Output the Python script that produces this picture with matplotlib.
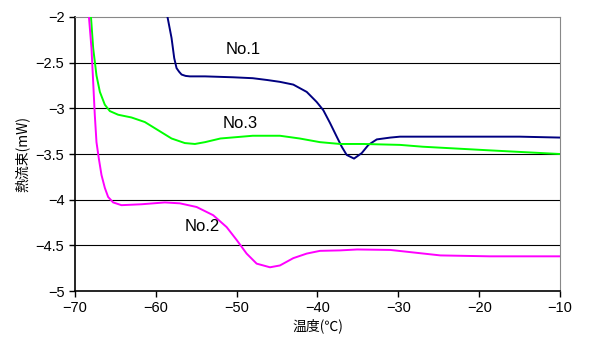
"""DSC heat-flow curves for samples No.1-No.3."""

import matplotlib

matplotlib.use("Agg")
import matplotlib.pyplot as plt

plt.rcParams["font.family"] = ["Noto Sans CJK JP", "DejaVu Sans"]

# No.1 (navy)
no1_x = [-58.6, -58.54, -58.04, -57.71, -57.42, -57.1, -56.8, -56.3, -55.77, -53.9,
         -50.4, -48.0, -46.2, -44.64, -42.99, -41.33, -40.1, -39.28, -38.45, -37.62,
         -37.0, -36.39, -35.48, -34.53, -33.7, -32.67, -31.0, -29.8, -25.0, -20.0,
         -15.0, -10.0]
no1_y = [-1.95, -2.0, -2.23, -2.45, -2.56, -2.60, -2.63, -2.645, -2.65, -2.65,
         -2.66, -2.67, -2.69, -2.71, -2.74, -2.82, -2.93, -3.02, -3.16, -3.31,
         -3.42, -3.51, -3.55, -3.49, -3.40, -3.34, -3.32, -3.31, -3.31, -3.31,
         -3.31, -3.32]

# No.2 (magenta)
no2_x = [-68.3, -68.27, -67.94, -67.73, -67.53, -67.32, -67.03, -66.7, -66.29, -65.88,
         -65.26, -64.23, -61.75, -58.87, -57.0, -54.94, -52.89, -51.23, -50.0, -48.76,
         -47.52, -45.87, -44.64, -42.99, -41.33, -39.69, -37.2, -35.1, -31.0, -24.8,
         -18.7, -10.0]
no2_y = [-1.95, -1.98, -2.34, -2.71, -3.07, -3.37, -3.55, -3.73, -3.87, -3.97,
         -4.03, -4.06, -4.05, -4.03, -4.04, -4.08, -4.17, -4.30, -4.44, -4.59,
         -4.70, -4.74, -4.72, -4.64, -4.59, -4.56, -4.555, -4.545, -4.55, -4.61,
         -4.62, -4.62]

# No.3 (green)
no3_x = [-68.05, -68.0, -67.73, -67.32, -66.9, -66.29, -65.67, -64.64, -62.99, -61.34,
         -59.69, -58.04, -56.4, -55.15, -53.9, -52.0, -48.0, -45.5, -44.64, -42.2,
         -39.7, -37.2, -34.33, -29.8, -27.0, -18.7, -10.0]
no3_y = [-1.95, -2.0, -2.34, -2.64, -2.82, -2.96, -3.03, -3.07, -3.10, -3.15,
         -3.24, -3.33, -3.38, -3.39, -3.37, -3.33, -3.30, -3.30, -3.30, -3.33,
         -3.37, -3.39, -3.39, -3.40, -3.42, -3.46, -3.50]

x_ticks = [-70, -60, -50, -40, -30, -20, -10]
x_tick_labels = ["−70", "−60", "−50", "−40", "−30", "−20", "−10"]
y_ticks = [-5, -4.5, -4, -3.5, -3, -2.5, -2]
y_tick_labels = ["−5", "−4.5", "−4", "−3.5", "−3", "−2.5", "−2"]

latin = "Liberation Sans"

fig = plt.figure(figsize=(5.89, 3.40), dpi=100)
ax = fig.add_axes([0.127, 0.144, 0.824, 0.806])

for y in y_ticks[1:-1]:
    ax.axhline(y, color="black", linewidth=0.8, zorder=1)

ax.plot(no1_x, no1_y, color="#000080", linewidth=1.4, zorder=3)
ax.plot(no3_x, no3_y, color="#00FF00", linewidth=1.4, zorder=3)
ax.plot(no2_x, no2_y, color="#FF00FF", linewidth=1.4, zorder=3)

ax.text(-49.2, -2.36, "No.1", fontsize=12, ha="center", va="center", family=latin)
ax.text(-49.6, -3.17, "No.3", fontsize=12, ha="center", va="center", family=latin)
ax.text(-54.3, -4.29, "No.2", fontsize=12, ha="center", va="center", family=latin)

ax.set_xlim(-70, -10)
ax.set_ylim(-5, -2)
ax.set_xticks(x_ticks)
ax.set_xticklabels(x_tick_labels)
ax.set_yticks(y_ticks)
ax.set_yticklabels(y_tick_labels)
ax.tick_params(direction="out", length=4, width=1, labelsize=10.5)
for label in ax.get_xticklabels() + ax.get_yticklabels():
    label.set_family(latin)

ax.spines["left"].set_color("black")
ax.spines["bottom"].set_color("black")
ax.spines["left"].set_linewidth(1.2)
ax.spines["bottom"].set_linewidth(1.2)
ax.spines["top"].set_color("#888888")
ax.spines["right"].set_color("#888888")

ax.set_xlabel("温度(℃)", fontsize=10, labelpad=2)
ax.set_ylabel("熱流束(mW)", fontsize=10, labelpad=4)

fig.savefig("out.png", dpi=100)
